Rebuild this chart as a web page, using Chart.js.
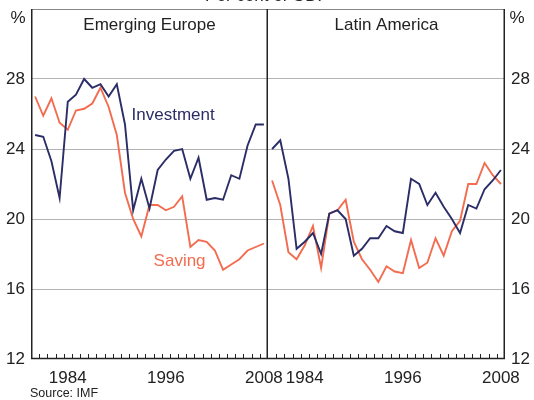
<!DOCTYPE html>
<html>
<head>
<meta charset="utf-8">
<script src="https://cdn.jsdelivr.net/npm/chart.js@4"></script>
<style>
    html, body { margin: 0; padding: 0; background: #fff; }
    #wrap { position: relative; width: 534px; height: 400px; overflow: hidden; }
    #leftBox { position: absolute; left: 0; top: 0; width: 534px; height: 400px; }
    #rightBox { position: absolute; left: 268px; top: 0; width: 266px; height: 400px; }
    #topTitle { position: absolute; left: 0; width: 534px; top: -14px; text-align: center;
        font: 17px 'Liberation Sans', Arial, sans-serif; color: #222; }
    #source { position: absolute; left: 30px; top: 386px;
        font: 12.5px 'Liberation Sans', Arial, sans-serif; color: #222; }
</style>
</head>
<body>
<div id="wrap">
    <div id="leftBox"><canvas id="europeChart"></canvas></div>
    <div id="rightBox"><canvas id="latamChart"></canvas></div>
    <div id="topTitle">Per cent of GDP</div>
    <div id="source">Source: IMF</div>
</div>
<script>
        // Data (per cent of GDP)
        const years = ['1980', '1981', '1982', '1983', '1984', '1985', '1986', '1987', '1988', '1989',
            '1990', '1991', '1992', '1993', '1994', '1995', '1996', '1997', '1998', '1999',
            '2000', '2001', '2002', '2003', '2004', '2005', '2006', '2007', '2008'];
        const shownYears = ['1984', '1996', '2008'];
        const yTicks = [12, 16, 20, 24, 28];

        const europeInvestment = [24.8, 24.7, 23.3, 21.2, 26.7, 27.1, 28.0, 27.5, 27.7, 27.0,
            27.7, 25.4, 20.5, 22.3, 20.6, 22.8, 23.4, 23.9, 24.0, 22.3,
            23.5, 21.1, 21.2, 21.1, 22.5, 22.3, 24.2, 25.4, 25.4];
        const europeSaving = [27.0, 25.9, 26.9, 25.5, 25.1, 26.2, 26.3, 26.6, 27.5, 26.4,
            24.8, 21.5, 20.0, 19.0, 20.8, 20.8, 20.5, 20.7, 21.3, 18.4,
            18.8, 18.7, 18.2, 17.1, 17.4, 17.7, 18.2, 18.4, 18.6];
        const latamInvestment = [24.0, 24.5, 22.3, 18.3, 18.7, 19.2, 18.0, 20.3, 20.5, 20.0,
            17.9, 18.3, 18.9, 18.9, 19.6, 19.3, 19.2, 22.3, 22.0, 20.8,
            21.5, 20.7, 20.0, 19.2, 20.8, 20.6, 21.7, 22.2, 22.8];
        const latamSaving = [22.2, 20.8, 18.1, 17.7, 18.5, 19.6, 17.2, 20.3, 20.5, 21.1,
            18.7, 17.7, 17.1, 16.4, 17.3, 17.0, 16.9, 18.8, 17.2, 17.5,
            18.9, 17.9, 19.3, 19.9, 22.0, 22.0, 23.2, 22.5, 22.0];

        const navy = '#2b2d66';
        const orange = '#f36c4f';
        const textColor = '#222';
        const fontFamily = "'Liberation Sans', Arial, sans-serif";

        Chart.defaults.font.family = fontFamily;
        Chart.defaults.color = textColor;

        // Frame, inward ticks, panel title and series labels
        const panelPlugin = {
            id: 'panel',
            afterDraw(chart, args, opts) {
                const { ctx, chartArea: a, scales } = chart;
                const x = scales.x, y = scales.y;
                ctx.save();
                // minor ticks at year boundaries
                ctx.strokeStyle = '#222';
                ctx.lineWidth = 1;
                ctx.beginPath();
                for (let i = 1; i < years.length; i++) {
                    const px = Math.round((x.getPixelForValue(i - 1) + x.getPixelForValue(i)) / 2) + 0.5;
                    ctx.moveTo(px, a.bottom);
                    ctx.lineTo(px, a.bottom - 5);
                }
                ctx.stroke();
                // frame
                ctx.strokeStyle = '#888';
                ctx.beginPath();
                ctx.moveTo(a.left, a.top + 0.5);
                ctx.lineTo(a.right, a.top + 0.5);
                ctx.stroke();
                ctx.strokeStyle = '#222';
                ctx.lineWidth = 1.5;
                ctx.beginPath();
                if (opts.leftEdge) {
                    ctx.moveTo(a.left + 0.75, a.top);
                    ctx.lineTo(a.left + 0.75, a.bottom);
                }
                ctx.moveTo(a.right - 0.75, a.top);
                ctx.lineTo(a.right - 0.75, a.bottom);
                ctx.moveTo(a.left, a.bottom - 0.5);
                ctx.lineTo(a.right, a.bottom - 0.5);
                ctx.stroke();
                // panel title
                ctx.font = '17px ' + fontFamily;
                ctx.fillStyle = textColor;
                ctx.textAlign = 'center';
                ctx.textBaseline = 'middle';
                ctx.fillText(opts.title, (a.left + a.right) / 2, 25);
                // % unit
                ctx.fillText('%', opts.unitX, 18);
                // series labels
                (opts.labels || []).forEach(l => {
                    ctx.fillStyle = l.color;
                    ctx.textAlign = 'left';
                    ctx.fillText(l.text, x.getPixelForValue(l.at), y.getPixelForValue(l.value));
                });
                ctx.restore();
            }
        };

        function makeChart(id, investment, saving, side, padRight, opts) {
            const ctx = document.getElementById(id).getContext('2d');
            return new Chart(ctx, {
                type: 'line',
                data: {
                    labels: years,
                    datasets: [{
                        label: 'Investment',
                        data: investment,
                        borderColor: navy,
                        borderWidth: 1.9,
                        pointRadius: 0,
                        tension: 0,
                        fill: false
                    }, {
                        label: 'Saving',
                        data: saving,
                        borderColor: orange,
                        borderWidth: 1.9,
                        pointRadius: 0,
                        tension: 0,
                        fill: false
                    }]
                },
                options: {
                    responsive: true,
                    maintainAspectRatio: false,
                    animation: false,
                    layout: { padding: { top: 9, left: 0, right: padRight, bottom: 0 } },
                    plugins: {
                        legend: { display: false },
                        tooltip: { enabled: false },
                        panel: opts
                    },
                    scales: {
                        x: {
                            type: 'category',
                            offset: true,
                            border: { display: false },
                            grid: { display: false, drawTicks: false },
                            ticks: {
                                autoSkip: false,
                                maxRotation: 0,
                                padding: 9,
                                font: { size: 17 },
                                color: textColor,
                                callback: function (v) {
                                    const lab = this.getLabelForValue(v);
                                    return shownYears.includes(lab) ? lab : '';
                                }
                            },
                            afterFit: s => {
                                s.height = 41;
                                s.paddingLeft = 0;
                                s.paddingRight = 0;
                            }
                        },
                        y: {
                            position: side,
                            min: 12,
                            max: 32,
                            border: { display: false },
                            grid: {
                                drawTicks: false,
                                color: c => (c.tick.value === 12 || c.tick.value === 32) ? 'rgba(0,0,0,0)' : '#b3b3b3',
                                lineWidth: 1
                            },
                            afterBuildTicks: s => { s.ticks = yTicks.concat([32]).map(v => ({ value: v })); },
                            ticks: {
                                padding: 6,
                                font: { size: 17 },
                                color: textColor,
                                callback: v => v === 32 ? '' : v
                            },
                            afterFit: s => {
                                s.width = side === 'left' ? 31 : 29;
                                s.paddingTop = 0;
                                s.paddingBottom = 0;
                            }
                        }
                    }
                },
                plugins: [panelPlugin]
            });
        }

        makeChart('europeChart', europeInvestment, europeSaving, 'left', 266, {
            title: 'Emerging Europe',
            unitX: 18,
            leftEdge: true,
            labels: [
                { text: 'Investment', color: navy, at: 11.8, value: 25.9 },
                { text: 'Saving', color: orange, at: 14.5, value: 17.6 }
            ]
        });

        makeChart('latamChart', latamInvestment, latamSaving, 'right', 0, {
            title: 'Latin America',
            unitX: 249,
            leftEdge: false,
            labels: []
        });
</script>
</body>
</html>
